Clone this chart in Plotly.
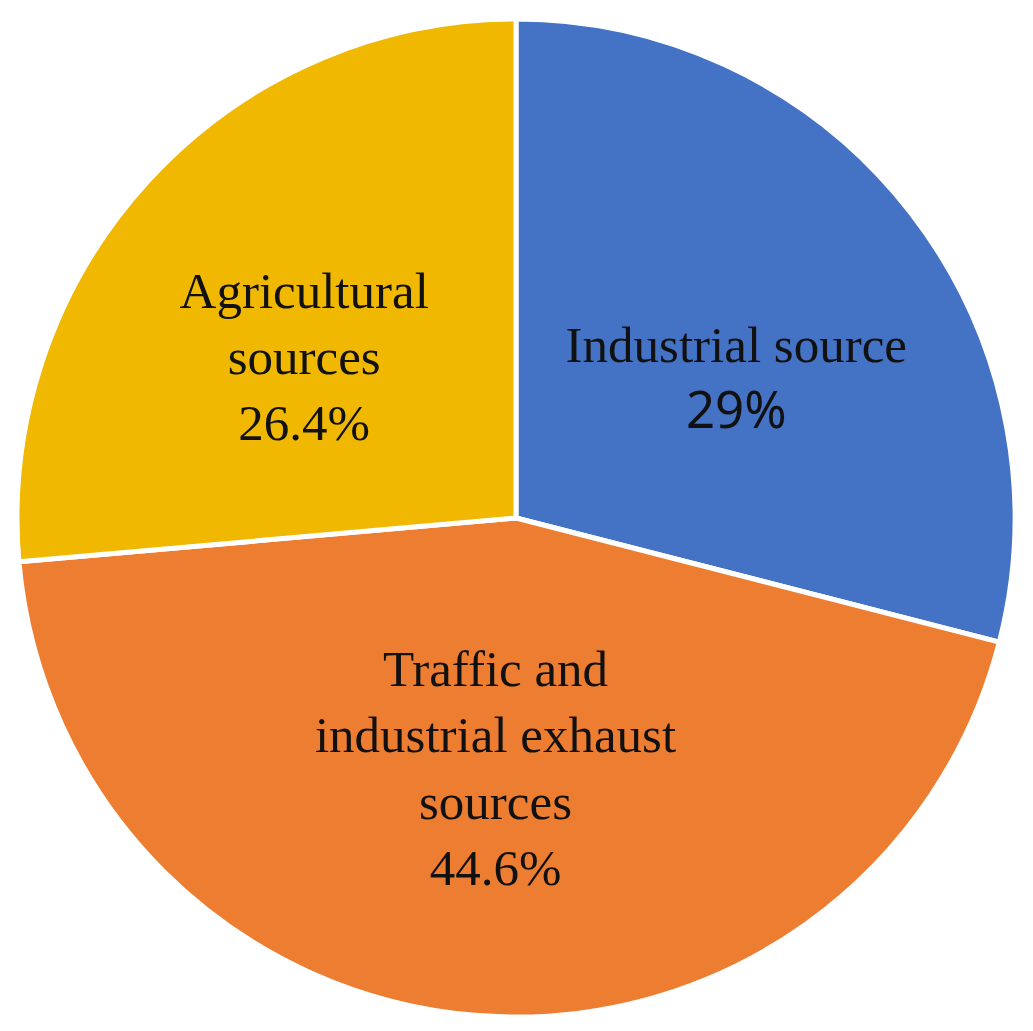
import plotly.graph_objects as go

labels = ['Industrial source', 'Traffic and<br>industrial exhaust<br>sources', 'Agricultural<br>sources']
values = [29, 44.6, 26.4]
pct_labels = ['29%', '44.6%', '26.4%']
colors = ['#4472C4', '#ED7D31', '#F0B800']

# only the blue slice uses a sans font for its percentage
# leading blank line pushes the upper labels a bit lower, like the original
texts = [
    f" <br>{labels[0]}<br><span style='font-family:Noto Sans'>{pct_labels[0]}</span>",
    f"{labels[1]}<br>{pct_labels[1]}",
    f" <br>{labels[2]}<br>{pct_labels[2]}",
]

fig = go.Figure(go.Pie(
    labels=labels,
    values=values,
    text=texts,
    textinfo='text',
    textposition='inside',
    insidetextorientation='horizontal',
    sort=False,
    direction='clockwise',
    rotation=0,
    marker=dict(colors=colors, line=dict(color='white', width=5)),
    textfont=dict(family='Liberation Serif', size=51, color='#111111'),
    hoverinfo='label+percent',
    showlegend=False,
))

fig.update_layout(
    width=1033, height=1031,
    margin=dict(l=9, r=26, t=10, b=21),
    paper_bgcolor='white',
)

fig.write_html("out.html")
